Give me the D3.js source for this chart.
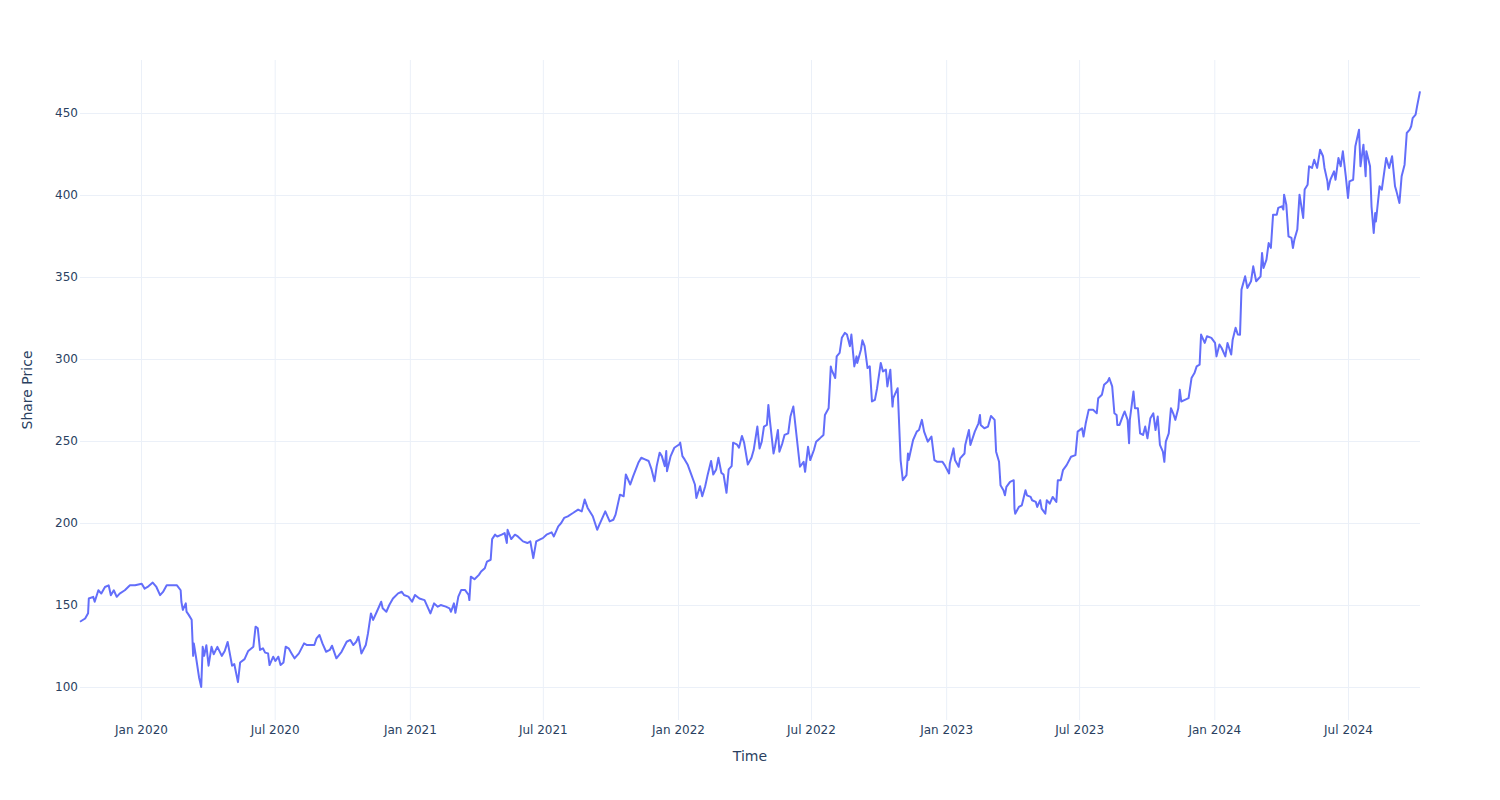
<!DOCTYPE html>
<html>
<head>
<meta charset="utf-8">
<script src="https://cdn.jsdelivr.net/npm/d3@7"></script>
<style>
    body { margin: 0; background: #fff; }
    svg { font-family: "DejaVu Sans", Verdana, sans-serif; }
</style>
</head>
<body>
<div id="chart"></div>
<script>
// daily closes, [date, price]
const priceHistory = [
    ["2019-10-10", 139.8], ["2019-10-17", 141.8], ["2019-10-21", 145], ["2019-10-22", 154], ["2019-10-28", 155], ["2019-10-30", 152],
    ["2019-11-04", 159], ["2019-11-08", 157], ["2019-11-13", 161], ["2019-11-18", 162], ["2019-11-21", 156], ["2019-11-25", 159], ["2019-11-29", 155],
    ["2019-12-03", 157], ["2019-12-10", 159], ["2019-12-17", 162], ["2019-12-24", 162],
    ["2020-01-02", 163], ["2020-01-06", 160], ["2020-01-10", 161], ["2020-01-17", 163.7], ["2020-01-22", 161], ["2020-01-27", 156], ["2020-01-31", 158],
    ["2020-02-05", 162], ["2020-02-12", 162], ["2020-02-19", 162], ["2020-02-24", 159], ["2020-02-25", 152], ["2020-02-27", 147],
    ["2020-03-02", 151], ["2020-03-03", 146], ["2020-03-06", 144], ["2020-03-10", 141], ["2020-03-12", 119], ["2020-03-13", 126.5], ["2020-03-16", 118],
    ["2020-03-20", 106], ["2020-03-23", 100], ["2020-03-25", 124.5], ["2020-03-27", 119], ["2020-03-30", 125.5],
    ["2020-04-02", 113], ["2020-04-06", 124.5], ["2020-04-09", 120], ["2020-04-14", 124.5], ["2020-04-20", 119], ["2020-04-24", 122], ["2020-04-28", 127.5],
    ["2020-05-04", 113], ["2020-05-07", 114], ["2020-05-12", 103], ["2020-05-15", 115], ["2020-05-21", 117], ["2020-05-26", 122],
    ["2020-06-02", 124.6], ["2020-06-05", 136.8], ["2020-06-08", 135.8], ["2020-06-11", 122.6], ["2020-06-15", 123.6], ["2020-06-18", 121],
    ["2020-06-22", 120.5], ["2020-06-24", 113.4], ["2020-06-29", 118.5],
    ["2020-07-02", 115.9], ["2020-07-06", 118.5], ["2020-07-09", 113.4], ["2020-07-13", 115], ["2020-07-16", 124.6], ["2020-07-20", 123.6],
    ["2020-07-24", 120.5], ["2020-07-28", 117.5],
    ["2020-08-03", 120.5], ["2020-08-10", 126.6], ["2020-08-14", 125.6], ["2020-08-18", 125.6], ["2020-08-24", 125.6], ["2020-08-27", 129.7], ["2020-08-31", 131.7],
    ["2020-09-04", 126.6], ["2020-09-09", 121.5], ["2020-09-14", 122.6], ["2020-09-17", 125.2], ["2020-09-23", 117.5], ["2020-09-30", 121.5],
    ["2020-10-07", 127.6], ["2020-10-12", 128.7], ["2020-10-16", 125.6], ["2020-10-20", 127.6], ["2020-10-23", 130.7], ["2020-10-27", 120.5],
    ["2020-11-02", 125.6], ["2020-11-05", 132.7], ["2020-11-09", 144.9], ["2020-11-12", 140.9], ["2020-11-17", 145.9], ["2020-11-23", 152],
    ["2020-11-25", 148], ["2020-11-30", 145.9],
    ["2020-12-04", 150], ["2020-12-09", 154], ["2020-12-16", 157.1], ["2020-12-21", 158.1], ["2020-12-24", 156.1], ["2020-12-30", 155.1],
    ["2021-01-04", 152], ["2021-01-08", 156.1], ["2021-01-14", 154], ["2021-01-21", 153], ["2021-01-26", 148], ["2021-01-29", 144.9],
    ["2021-02-03", 151], ["2021-02-08", 149], ["2021-02-12", 150], ["2021-02-19", 149], ["2021-02-24", 148], ["2021-02-26", 145.9],
    ["2021-03-02", 151], ["2021-03-04", 145.3], ["2021-03-08", 155.1], ["2021-03-12", 159.2], ["2021-03-17", 159.2], ["2021-03-22", 156.1],
    ["2021-03-23", 153], ["2021-03-25", 167.3], ["2021-03-30", 165.7],
    ["2021-04-05", 168.4], ["2021-04-08", 170.4], ["2021-04-13", 172.4], ["2021-04-16", 176.5], ["2021-04-21", 177.6], ["2021-04-23", 190.2],
    ["2021-04-27", 192.9], ["2021-04-30", 191.8],
    ["2021-05-06", 192.9], ["2021-05-10", 193.9], ["2021-05-13", 187.8], ["2021-05-14", 195.9], ["2021-05-19", 190.2], ["2021-05-24", 192.9], ["2021-05-28", 191.8],
    ["2021-06-04", 188.8], ["2021-06-10", 187.8], ["2021-06-14", 188.8], ["2021-06-18", 178.6], ["2021-06-22", 188.8], ["2021-06-28", 190.2],
    ["2021-07-01", 190.8], ["2021-07-06", 192.9], ["2021-07-13", 194.3], ["2021-07-16", 191.8], ["2021-07-22", 198], ["2021-07-26", 200], ["2021-07-30", 203.1],
    ["2021-08-04", 204.1], ["2021-08-11", 206.1], ["2021-08-18", 208.2], ["2021-08-23", 207.1], ["2021-08-27", 214.3], ["2021-08-31", 209.2],
    ["2021-09-07", 204.1], ["2021-09-10", 200], ["2021-09-13", 195.9], ["2021-09-16", 199], ["2021-09-21", 204.1], ["2021-09-24", 207.1], ["2021-09-30", 201],
    ["2021-10-05", 202], ["2021-10-08", 205.1], ["2021-10-14", 217.3], ["2021-10-19", 216.3], ["2021-10-22", 229.6], ["2021-10-28", 223.5],
    ["2021-11-01", 228.6], ["2021-11-08", 236.7], ["2021-11-12", 239.8], ["2021-11-17", 238.8], ["2021-11-22", 237.8], ["2021-11-26", 232.7], ["2021-11-30", 225.5],
    ["2021-12-03", 234.7], ["2021-12-07", 242.9], ["2021-12-10", 240.8], ["2021-12-14", 234.7], ["2021-12-16", 243.9], ["2021-12-17", 231.6],
    ["2021-12-22", 240.8], ["2021-12-27", 245.9],
    ["2022-01-03", 248], ["2022-01-04", 249], ["2022-01-07", 240.8], ["2022-01-10", 238.8], ["2022-01-14", 235.7], ["2022-01-19", 229.6],
    ["2022-01-24", 223.5], ["2022-01-26", 215.3], ["2022-01-31", 222.4],
    ["2022-02-03", 216.3], ["2022-02-07", 222.4], ["2022-02-10", 228.6], ["2022-02-15", 237.8], ["2022-02-18", 229.6], ["2022-02-22", 232.7], ["2022-02-25", 239.8],
    ["2022-03-01", 230.6], ["2022-03-04", 229.6], ["2022-03-08", 218.4], ["2022-03-11", 232.7], ["2022-03-15", 234.7], ["2022-03-17", 249],
    ["2022-03-22", 248], ["2022-03-25", 245.9], ["2022-03-29", 253.1],
    ["2022-04-01", 249], ["2022-04-06", 235.7], ["2022-04-11", 239.8], ["2022-04-14", 244.5], ["2022-04-19", 258.8], ["2022-04-22", 245.5],
    ["2022-04-25", 249.6], ["2022-04-28", 258.8],
    ["2022-05-02", 259.8], ["2022-05-04", 272], ["2022-05-06", 262.9], ["2022-05-11", 242.4], ["2022-05-13", 246.5], ["2022-05-17", 256.7],
    ["2022-05-19", 243.5], ["2022-05-23", 248.6], ["2022-05-26", 253.7], ["2022-05-31", 254.7],
    ["2022-06-03", 264.9], ["2022-06-07", 271], ["2022-06-10", 258.8], ["2022-06-13", 246.5], ["2022-06-16", 234.3], ["2022-06-21", 237.3],
    ["2022-06-23", 231.2], ["2022-06-27", 246.5], ["2022-06-30", 238.4],
    ["2022-07-05", 244.5], ["2022-07-08", 249.6], ["2022-07-13", 251.6], ["2022-07-18", 253.7], ["2022-07-20", 265.9], ["2022-07-25", 270],
    ["2022-07-28", 295.5], ["2022-07-29", 293.5],
    ["2022-08-03", 288.4], ["2022-08-05", 301.6], ["2022-08-09", 303.7], ["2022-08-12", 312.9], ["2022-08-16", 315.9], ["2022-08-19", 314.9],
    ["2022-08-23", 307.8], ["2022-08-25", 314.9], ["2022-08-29", 295.5],
    ["2022-09-01", 301.6], ["2022-09-02", 297.6], ["2022-09-07", 305.7], ["2022-09-09", 311.4], ["2022-09-12", 307.8], ["2022-09-16", 294.5],
    ["2022-09-19", 295.5], ["2022-09-22", 274.1], ["2022-09-26", 275.1], ["2022-09-29", 282.2],
    ["2022-10-04", 297.6], ["2022-10-07", 292.4], ["2022-10-11", 293.5], ["2022-10-13", 283.3], ["2022-10-17", 293.5], ["2022-10-20", 271],
    ["2022-10-21", 276.1], ["2022-10-27", 282.2], ["2022-10-31", 238.4],
    ["2022-11-03", 226.1], ["2022-11-08", 229.2], ["2022-11-10", 242.4], ["2022-11-11", 238.4], ["2022-11-17", 250.6], ["2022-11-22", 255.7],
    ["2022-11-25", 256.7], ["2022-11-29", 262.9],
    ["2022-12-02", 255.7], ["2022-12-07", 249.6], ["2022-12-12", 252.7], ["2022-12-16", 238.4], ["2022-12-20", 237.3], ["2022-12-27", 237.3], ["2022-12-30", 235.3],
    ["2023-01-05", 230.2], ["2023-01-06", 236.3], ["2023-01-11", 245.5], ["2023-01-13", 238.4], ["2023-01-18", 234.3], ["2023-01-20", 239.4],
    ["2023-01-26", 242.4], ["2023-01-27", 247.6],
    ["2023-02-01", 256.7], ["2023-02-03", 247.6], ["2023-02-09", 255.7], ["2023-02-14", 260.8], ["2023-02-16", 265.9], ["2023-02-17", 259.8],
    ["2023-02-22", 257.8], ["2023-02-27", 258.8],
    ["2023-03-03", 265.3], ["2023-03-08", 262.9], ["2023-03-10", 243.5], ["2023-03-14", 237.3], ["2023-03-16", 223.1], ["2023-03-20", 220],
    ["2023-03-22", 216.9], ["2023-03-24", 222], ["2023-03-29", 225.1],
    ["2023-04-03", 226.1], ["2023-04-04", 208.8], ["2023-04-05", 205.7], ["2023-04-10", 209.8], ["2023-04-14", 210.8], ["2023-04-19", 220],
    ["2023-04-21", 216.9], ["2023-04-26", 215.9], ["2023-04-28", 213.9],
    ["2023-05-03", 212.9], ["2023-05-05", 209.8], ["2023-05-09", 213.9], ["2023-05-11", 208.8], ["2023-05-16", 205.7], ["2023-05-18", 213.9],
    ["2023-05-22", 211.8], ["2023-05-25", 214.9], ["2023-05-26", 215.9], ["2023-05-31", 212.9],
    ["2023-06-02", 226.1], ["2023-06-06", 226.1], ["2023-06-09", 232.2], ["2023-06-14", 235.3], ["2023-06-20", 240.4], ["2023-06-26", 241.4], ["2023-06-29", 255.7],
    ["2023-07-05", 257.8], ["2023-07-07", 252.7], ["2023-07-10", 260.8], ["2023-07-14", 269], ["2023-07-20", 269], ["2023-07-25", 266.9], ["2023-07-27", 276.1],
    ["2023-08-01", 278.2], ["2023-08-04", 284.3], ["2023-08-09", 286.3], ["2023-08-11", 288.4], ["2023-08-15", 283.3], ["2023-08-18", 266.9],
    ["2023-08-21", 265.9], ["2023-08-22", 259.8], ["2023-08-25", 259.8], ["2023-08-30", 265.9],
    ["2023-09-01", 268], ["2023-09-05", 262.9], ["2023-09-07", 248.6], ["2023-09-08", 262.9], ["2023-09-13", 280.2], ["2023-09-15", 270],
    ["2023-09-19", 270], ["2023-09-22", 254.7], ["2023-09-26", 253.7], ["2023-09-29", 258.8],
    ["2023-10-02", 251.6], ["2023-10-06", 263.9], ["2023-10-10", 266.9], ["2023-10-13", 256.7], ["2023-10-16", 264.9], ["2023-10-19", 247.6],
    ["2023-10-23", 243.5], ["2023-10-25", 237.3], ["2023-10-27", 249.6], ["2023-10-31", 254.7],
    ["2023-11-03", 270], ["2023-11-06", 266.9], ["2023-11-09", 262.9], ["2023-11-13", 270], ["2023-11-15", 281.2], ["2023-11-17", 274.1],
    ["2023-11-22", 275.1], ["2023-11-27", 276.1],
    ["2023-12-01", 288.4], ["2023-12-05", 291.4], ["2023-12-08", 295.5], ["2023-12-12", 296.5], ["2023-12-14", 314.9], ["2023-12-19", 309.8],
    ["2023-12-22", 313.9], ["2023-12-28", 312.9],
    ["2024-01-02", 309.8], ["2024-01-04", 301.6], ["2024-01-08", 308.8], ["2024-01-11", 306.7], ["2024-01-16", 301.6], ["2024-01-19", 309.8],
    ["2024-01-24", 302.7], ["2024-01-26", 311.8], ["2024-01-30", 319],
    ["2024-02-02", 314.9], ["2024-02-05", 314.8], ["2024-02-07", 342.3], ["2024-02-12", 350.4], ["2024-02-15", 343.3], ["2024-02-20", 347.4],
    ["2024-02-23", 356.5], ["2024-02-27", 347.4],
    ["2024-03-04", 350.4], ["2024-03-06", 364.6], ["2024-03-08", 355.5], ["2024-03-12", 360.6], ["2024-03-15", 370.7], ["2024-03-18", 367.7],
    ["2024-03-21", 388], ["2024-03-26", 388], ["2024-03-28", 392.1],
    ["2024-04-02", 393.1], ["2024-04-04", 391.1], ["2024-04-05", 400.2], ["2024-04-08", 394.1], ["2024-04-11", 374.8], ["2024-04-15", 373.8],
    ["2024-04-17", 367.7], ["2024-04-19", 372.8], ["2024-04-23", 378.9], ["2024-04-26", 400.2],
    ["2024-05-01", 386], ["2024-05-03", 403.3], ["2024-05-07", 406.3], ["2024-05-09", 417.5], ["2024-05-13", 416.5], ["2024-05-16", 421.5],
    ["2024-05-20", 416.5], ["2024-05-24", 427.6], ["2024-05-28", 423.6], ["2024-05-30", 416.5],
    ["2024-06-03", 408.3], ["2024-06-04", 403.3], ["2024-06-07", 409.3], ["2024-06-12", 414.4], ["2024-06-14", 409.3], ["2024-06-18", 422.6],
    ["2024-06-21", 417.5], ["2024-06-24", 426.6], ["2024-06-28", 411.4],
    ["2024-07-01", 398.2], ["2024-07-03", 408.3], ["2024-07-08", 409.3], ["2024-07-11", 429.7], ["2024-07-12", 431.7], ["2024-07-16", 439.8],
    ["2024-07-18", 417.5], ["2024-07-22", 430.7], ["2024-07-25", 411.4], ["2024-07-26", 426.6], ["2024-07-31", 417.5],
    ["2024-08-02", 393.1], ["2024-08-05", 376.8], ["2024-08-07", 389], ["2024-08-08", 383.9], ["2024-08-13", 405.3], ["2024-08-16", 403.3],
    ["2024-08-22", 422.6], ["2024-08-26", 416.5], ["2024-08-30", 423.6],
    ["2024-09-03", 405.3], ["2024-09-05", 402.2], ["2024-09-09", 395.1], ["2024-09-12", 411.4], ["2024-09-16", 418.5], ["2024-09-19", 437.8],
    ["2024-09-23", 439.8], ["2024-09-25", 441.9], ["2024-09-27", 446.9],
    ["2024-10-01", 449], ["2024-10-03", 454], ["2024-10-07", 463.2]
];

const yTickValues = [100, 150, 200, 250, 300, 350, 400, 450];
const yRange = [79.9, 482.3];
const xTitle = "Time";
const yTitle = "Share Price";

const width = 1500;
const height = 800;
const margin = { top: 60, right: 80, bottom: 80, left: 80 };

const parseDate = d3.timeParse("%Y-%m-%d");
const data = priceHistory.map(d => ({ date: parseDate(d[0]), price: d[1] }));

const svg = d3.select("#chart").append("svg")
    .attr("width", width)
    .attr("height", height);

const x = d3.scaleTime()
    .domain(d3.extent(data, d => d.date))
    .range([margin.left, width - margin.right]);

const y = d3.scaleLinear()
    .domain(yRange)
    .range([height - margin.bottom, margin.top]);

const xTicks = x.ticks(d3.timeMonth.every(6));

// grid lines
svg.append("g")
    .attr("transform", `translate(0,${height - margin.bottom})`)
    .call(d3.axisBottom(x).tickValues(xTicks).tickSize(-(height - margin.top - margin.bottom)).tickFormat(""))
    .call(g => g.select(".domain").remove())
    .call(g => g.selectAll("line").attr("stroke", "#EBF0F8").attr("stroke-width", 1));

svg.append("g")
    .attr("transform", `translate(${margin.left},0)`)
    .call(d3.axisLeft(y).tickValues(yTickValues).tickSize(-(width - margin.left - margin.right)).tickFormat(""))
    .call(g => g.select(".domain").remove())
    .call(g => g.selectAll("line").attr("stroke", "#EBF0F8").attr("stroke-width", 1));

// tick labels
svg.append("g")
    .attr("transform", `translate(0,${height - margin.bottom})`)
    .call(d3.axisBottom(x).tickValues(xTicks).tickSize(0).tickPadding(5).tickFormat(d3.timeFormat("%b %Y")))
    .call(g => g.select(".domain").remove())
    .call(g => g.selectAll("text")
        .attr("fill", "#2a3f5f")
        .style("font-size", "12px")
        .style("font-family", "'DejaVu Sans', Verdana, sans-serif"));

svg.append("g")
    .attr("transform", `translate(${margin.left},0)`)
    .call(d3.axisLeft(y).tickValues(yTickValues).tickSize(0).tickPadding(2))
    .call(g => g.select(".domain").remove())
    .call(g => g.selectAll("text")
        .attr("fill", "#2a3f5f")
        .style("font-size", "12px")
        .style("font-family", "'DejaVu Sans', Verdana, sans-serif"));

// price line
svg.append("path")
    .datum(data)
    .attr("fill", "none")
    .attr("stroke", "#636efa")
    .attr("stroke-width", 2)
    .attr("stroke-linejoin", "round")
    .attr("d", d3.line().x(d => x(d.date)).y(d => y(d.price)));

// axis titles
svg.append("text")
    .attr("x", (margin.left + width - margin.right) / 2)
    .attr("y", 761)
    .attr("text-anchor", "middle")
    .attr("fill", "#2a3f5f")
    .style("font-size", "14px")
    .text(xTitle);

svg.append("text")
    .attr("transform", `translate(32,${(margin.top + height - margin.bottom) / 2}) rotate(-90)`)
    .attr("text-anchor", "middle")
    .attr("fill", "#2a3f5f")
    .style("font-size", "14px")
    .text(yTitle);
</script>
</body>
</html>
